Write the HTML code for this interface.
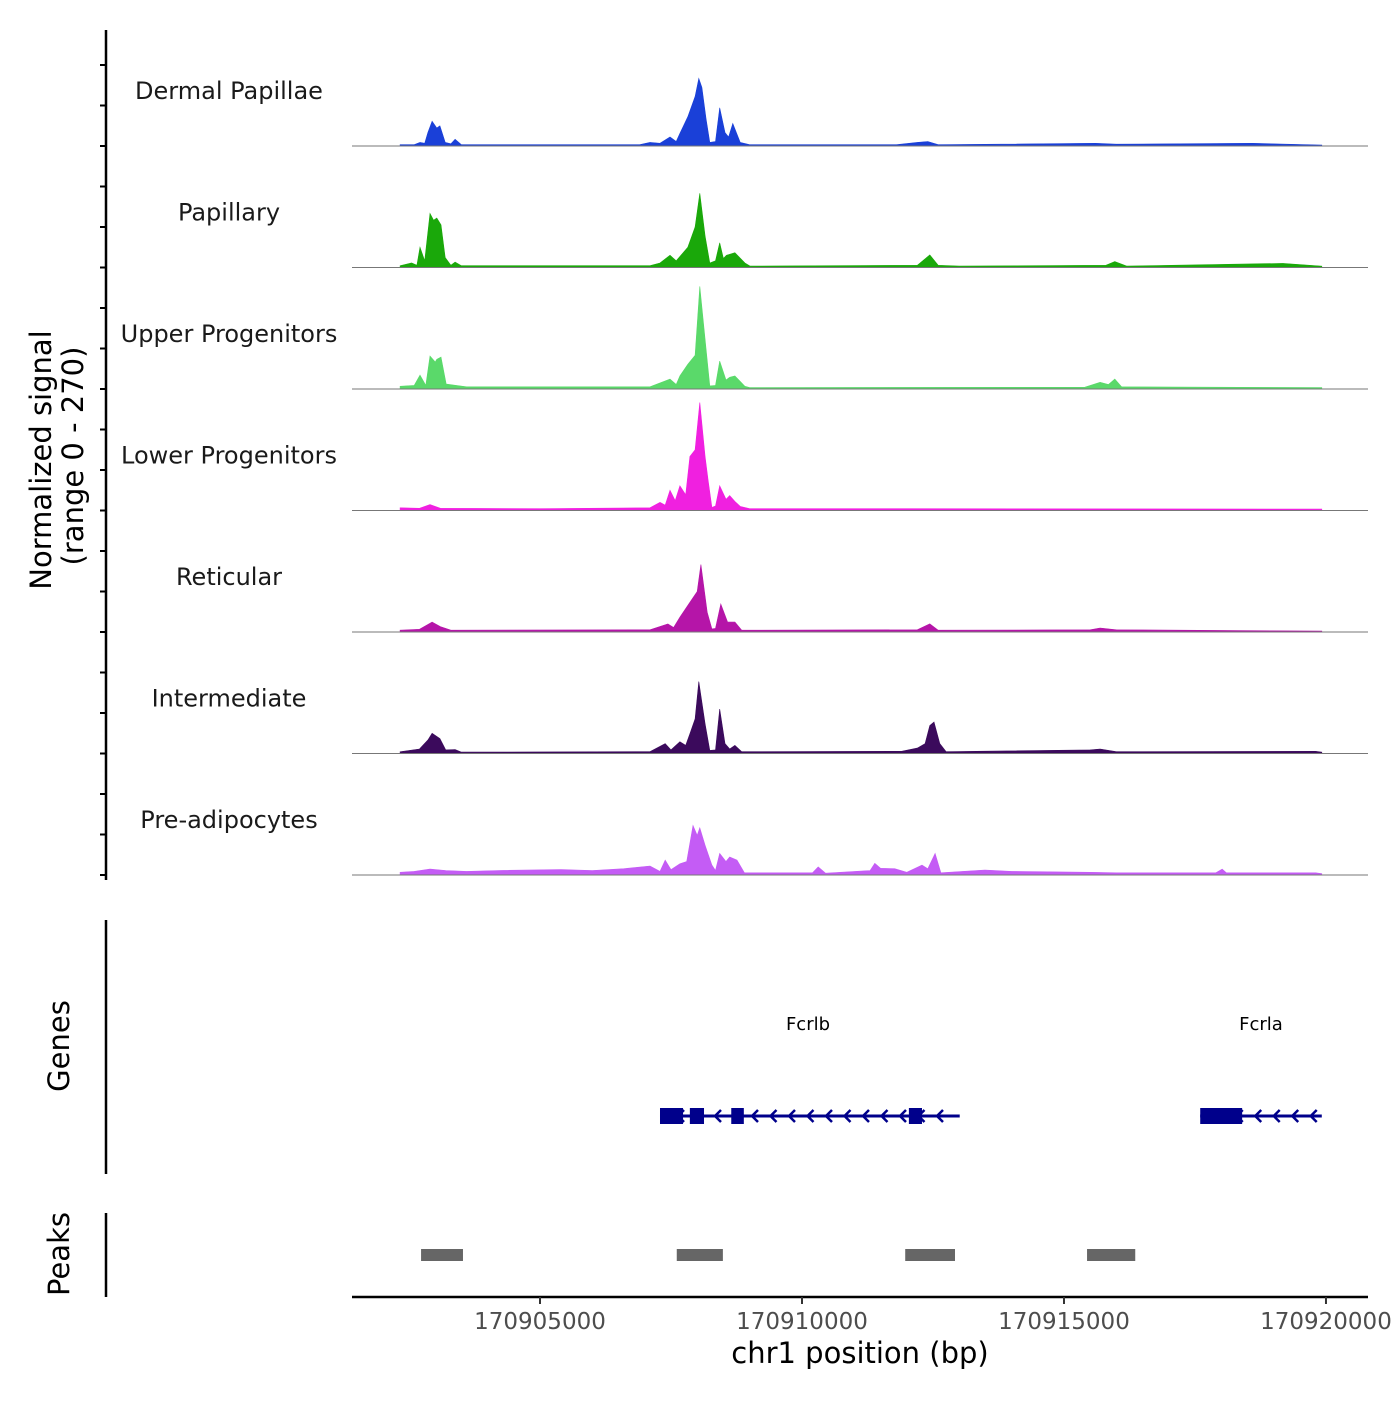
<!DOCTYPE html>
<html><head><meta charset="utf-8"><style>
html,body{margin:0;padding:0;background:#fff}
svg text{font-family:"DejaVu Sans","Liberation Sans",sans-serif}
</style></head><body>
<svg id="chart" width="1400" height="1400" viewBox="0 0 1400 1400" xmlns="http://www.w3.org/2000/svg">
<g id="tracks"></g>
<g id="genes"></g>
<g id="peaks"></g>
<g id="axes"></g>
</svg>
<script>
const trackNames=["Dermal Papillae","Papillary","Upper Progenitors","Lower Progenitors","Reticular","Intermediate","Pre-adipocytes"];
const trackColors=["#1a40d8","#1aa80a","#5ad96a","#f020e0","#b515a8","#3b0a5c","#c45cf5"];
// positions in kb offset from 170900000, values in normalized signal (0-270)
const sigDermal=[[2.33,3],[2.6,3],[2.71,8],[2.8,6],[2.86,30],[2.94,55],[3.03,40],[3.09,45],[3.19,8],[3.3,5],[3.38,15],[3.5,3],[5,3],[6.9,3],[7.1,8],[7.29,6],[7.48,20],[7.6,10],[7.67,28],[7.82,65],[7.96,110],[8.03,150],[8.09,130],[8.17,60],[8.24,8],[8.35,10],[8.43,85],[8.53,30],[8.6,20],[8.68,50],[8.82,8],[9.0,3],[11.8,3],[12.2,8],[12.4,10],[12.6,3],[15.6,6],[16.0,4],[18.6,6],[19.92,2]];
const sigPapillary=[[2.33,4],[2.55,10],[2.65,5],[2.71,45],[2.8,15],[2.9,120],[2.97,105],[3.03,110],[3.11,95],[3.19,22],[3.3,5],[3.38,12],[3.5,4],[7.1,4],[7.29,10],[7.48,27],[7.6,15],[7.82,45],[7.96,90],[8.05,165],[8.15,70],[8.24,10],[8.35,15],[8.43,55],[8.5,20],[8.56,27],[8.72,33],[8.91,10],[9.01,3],[12.2,5],[12.44,28],[12.6,5],[13,3],[15.8,5],[15.97,13],[16.2,3],[19.18,9],[19.92,3]];
const sigUpper=[[2.33,6],[2.6,8],[2.71,31],[2.82,8],[2.9,73],[3.0,60],[3.03,66],[3.11,71],[3.21,11],[3.4,8],[3.6,5],[7.1,5],[7.48,22],[7.6,10],[7.67,29],[7.82,55],[7.96,75],[8.05,228],[8.17,88],[8.24,7],[8.35,8],[8.43,62],[8.55,20],[8.62,26],[8.72,29],[8.91,6],[9.0,3],[15.4,4],[15.69,15],[15.85,10],[15.97,22],[16.1,5],[19.92,3]];
const sigLower=[[2.33,6],[2.7,5],[2.9,13],[3.1,5],[5,4],[7.1,6],[7.29,18],[7.39,12],[7.48,45],[7.58,22],[7.67,55],[7.78,35],[7.86,120],[7.96,135],[8.05,240],[8.15,120],[8.21,66],[8.28,7],[8.35,10],[8.43,55],[8.55,25],[8.62,33],[8.72,20],[8.82,9],[9.0,4],[12,4],[19.92,3]];
const sigReticular=[[2.33,4],[2.7,6],[2.94,22],[3.1,12],[3.3,4],[7.1,5],[7.44,18],[7.55,10],[7.67,33],[7.86,66],[8.0,90],[8.07,150],[8.19,44],[8.28,7],[8.35,8],[8.45,62],[8.58,22],[8.72,22],[8.85,4],[12.2,5],[12.44,18],[12.6,4],[15.5,5],[15.69,9],[16.0,5],[19.92,2]];
const sigIntermediate=[[2.33,4],[2.7,10],[2.86,30],[2.94,45],[3.09,33],[3.2,8],[3.38,9],[3.5,3],[7.1,4],[7.39,22],[7.5,8],[7.67,26],[7.78,18],[7.86,44],[7.96,77],[8.03,160],[8.15,66],[8.24,7],[8.35,8],[8.43,99],[8.53,22],[8.62,10],[8.72,18],[8.85,4],[11.9,5],[12.2,12],[12.35,22],[12.44,62],[12.52,70],[12.63,22],[12.75,4],[15.5,8],[15.69,10],[16.0,4],[19.8,5],[19.92,3]];
const sigPreadipo=[[2.33,6],[2.6,8],[2.9,13],[3.2,10],[3.6,8],[4.2,10],[5.4,12],[6.0,10],[6.6,14],[7.1,20],[7.29,8],[7.39,33],[7.5,12],[7.67,25],[7.8,30],[7.92,110],[8.0,88],[8.05,105],[8.15,66],[8.28,22],[8.35,10],[8.43,48],[8.55,30],[8.62,40],[8.76,33],[8.9,5],[10.2,5],[10.31,18],[10.45,4],[11.3,10],[11.39,26],[11.5,15],[11.77,14],[12.0,6],[12.29,22],[12.4,14],[12.54,48],[12.65,5],[13.49,11],[14,8],[15.5,6],[16,5],[17.9,5],[18.02,13],[18.1,5],[19.8,5],[19.92,3]];
const signals=[sigDermal,sigPapillary,sigUpper,sigLower,sigReticular,sigIntermediate,sigPreadipo];
const xTicks=[170905000,170910000,170915000,170920000];
const geneNames=["Fcrlb","Fcrla"];
const geneSpans=[[7.29,13.01],[17.60,19.92]];
const geneExons=[[[7.29,7.73],[7.86,8.13],[8.65,8.89],[12.04,12.29]],[[17.60,18.40]]];
const peakRegions=[[2.73,3.53],[7.61,8.49],[11.97,12.92],[15.44,16.36]];

const NS="http://www.w3.org/2000/svg";
const X0=352,X1=1368,D0=1.412,D1=20.802;
function xs(kb){return X0+(kb-D0)/(D1-D0)*(X1-X0);}
const YMAX=270,TH=121.5,B0=146;
function mk(tag,attrs,parent){const e=document.createElementNS(NS,tag);for(const k in attrs)e.setAttribute(k,attrs[k]);parent.appendChild(e);return e;}
const tracks=document.getElementById('tracks');
signals.forEach((s,i)=>{
  const base=B0+i*TH;
  const ys=v=>base-v/YMAX*TH;
  let d=`M${xs(s[0][0]).toFixed(1)},${base}`;
  s.forEach(p=>{d+=` L${xs(p[0]).toFixed(1)},${ys(p[1]).toFixed(1)}`;});
  d+=` L${xs(s[s.length-1][0]).toFixed(1)},${base} Z`;
  const a=mk('path',{d:d,fill:trackColors[i],stroke:trackColors[i],'stroke-width':0.6},tracks);
  
  
  const bl=mk('line',{x1:X0,x2:X1,y1:base,y2:base,stroke:'#777','stroke-width':1},tracks);
  
  
  const t=mk('text',{x:229,y:base-47,'text-anchor':'middle','font-size':24,fill:'#1a1a1a'},tracks);
  t.textContent=trackNames[i];
  
  
});
const genes=document.getElementById('genes');
const GY=1116;
geneNames.forEach((g,i)=>{
  const [s,e]=geneSpans[i];
  const l=mk('line',{x1:xs(s),x2:xs(e),y1:GY,y2:GY,stroke:'#00008b','stroke-width':3},genes);
  
  
  for(let x=xs(s)+20;x<xs(e)-5;x+=18.5){
    const ar=mk('path',{d:`M${x+4},${GY-6} L${x-2},${GY} L${x+4},${GY+6}`,fill:'none',stroke:'#00008b','stroke-width':2.5},genes);
    
    
  }
  geneExons[i].forEach(ex=>{
    const r=mk('rect',{x:xs(ex[0]),y:GY-8,width:xs(ex[1])-xs(ex[0]),height:16,fill:'#00008b'},genes);
    
    
  });
  const t=mk('text',{x:(xs(s)+xs(e))/2,y:1030,'text-anchor':'middle','font-size':18,fill:'#000'},genes);
  t.setAttribute('x',i===0?808:1261);
  t.textContent=g;
  
  
});
const peaks=document.getElementById('peaks');
peakRegions.forEach(p=>{
  const r=mk('rect',{x:xs(p[0]),y:1249,width:xs(p[1])-xs(p[0]),height:12,fill:'#666'},peaks);
  
  
});
const axes=document.getElementById('axes');
function ln(x1,y1,x2,y2,w,c,name){const l=mk('line',{x1,y1,x2,y2,stroke:c,'stroke-width':w},axes);}
ln(106,30,106,880,2.5,'#000','signal-y-axis');
for(let k=-2;k<=18;k++){const y=B0+k*TH/3;ln(100,y,106,y,2,'#000','y-tick');}
ln(106,920,106,1174,2.5,'#000','genes-y-axis');
ln(106,1213,106,1297,2.5,'#000','peaks-y-axis');
ln(352,1297,1368,1297,2.5,'#000','x-axis');
xTicks.forEach(v=>{const x=xs((v-170900000)/1000);ln(x,1297,x,1304,2,'#333','x-tick');
  const t=mk('text',{x:x,y:1329,'text-anchor':'middle','font-size':23,fill:'#4d4d4d'},axes);t.textContent=v;
  });
function txt(s,x,y,fs,rot,name){const t=mk('text',{x,y,'text-anchor':'middle','font-size':fs,fill:'#000'},axes);if(rot)t.setAttribute('transform',`rotate(-90 ${x} ${y})`);t.textContent=s;}
txt('chr1 position (bp)',860,1363,29,false,'x-axis-title');
txt('Normalized signal',51,460,29,true,'y-axis-title');
txt('(range 0 - 270)',83,456,29,true,'y-axis-range');
txt('Genes',69,1046,29,true,'genes-title');
txt('Peaks',69,1254,29,true,'peaks-title');
</script>
</body></html>
